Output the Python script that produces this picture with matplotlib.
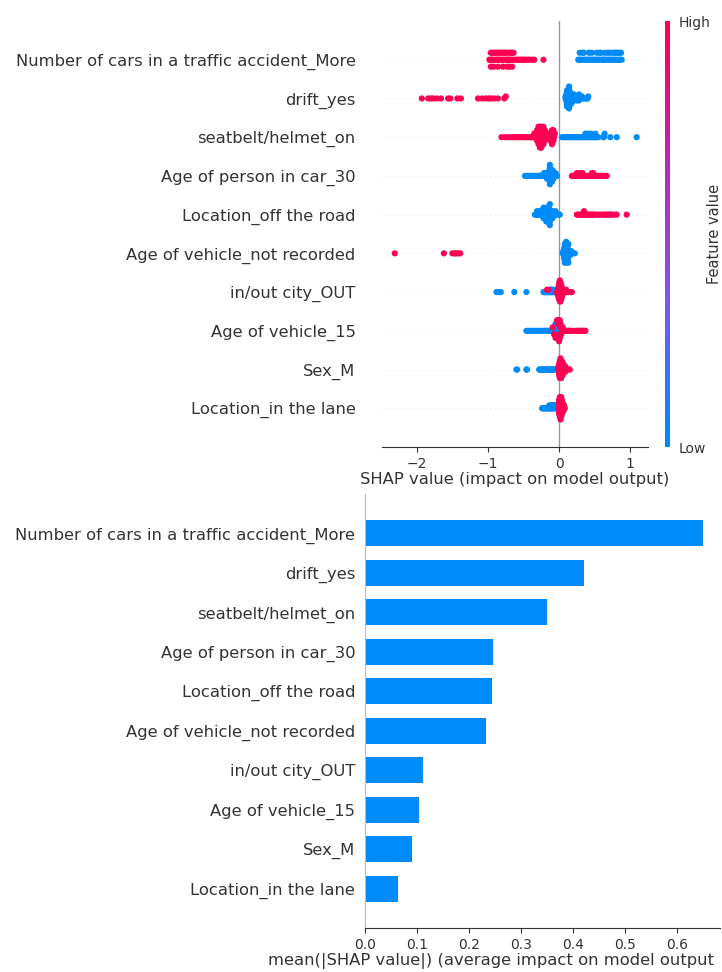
import numpy as np
import matplotlib
matplotlib.use("Agg")
import matplotlib.pyplot as plt
from matplotlib.colors import LinearSegmentedColormap

features = [
    "Number of cars in a traffic accident_More",
    "drift_yes",
    "seatbelt/helmet_on",
    "Age of person in car_30",
    "Location_off the road",
    "Age of vehicle_not recorded",
    "in/out city_OUT",
    "Age of vehicle_15",
    "Sex_M",
    "Location_in the lane",
]

cars_high = [-0.98, -0.97, -0.96, -0.96, -0.95, -0.94, -0.93, -0.92, -0.92, -0.91, -0.90, -0.89,
             -0.88, -0.87, -0.86, -0.86, -0.85, -0.84, -0.83, -0.82, -0.81, -0.80, -0.80, -0.79,
             -0.78, -0.77, -0.76, -0.75, -0.74, -0.74, -0.73, -0.72, -0.71, -0.70, -0.70, -0.69,
             -0.68, -0.67, -0.66, -0.66, -0.65, -0.64, -0.62, -0.60, -0.58, -0.56, -0.54, -0.52,
             -0.50, -0.48, -0.46, -0.43, -0.40, -0.37, -0.35, -0.22]
cars_low = [0.27, 0.28, 0.29, 0.31, 0.32, 0.33, 0.35, 0.35, 0.37, 0.39, 0.41, 0.42, 0.43, 0.45,
            0.46, 0.47, 0.49, 0.51, 0.52, 0.53, 0.55, 0.56, 0.57, 0.58, 0.59, 0.61, 0.62, 0.63,
            0.64, 0.65, 0.67, 0.68, 0.69, 0.70, 0.71, 0.73, 0.74, 0.75, 0.76, 0.77, 0.78, 0.79,
            0.80, 0.81, 0.82, 0.83, 0.84, 0.85, 0.86, 0.87, 0.88]

drift_high = [-1.93, -1.84, -1.80, -1.77, -1.72, -1.66, -1.56, -1.53, -1.43, -1.38, -1.14,
              -1.08, -1.03, -0.99, -0.96, -0.91, -0.86, -0.77, -0.75]
drift_low = [0.09, 0.09, 0.10, 0.10, 0.10, 0.10, 0.11, 0.11, 0.11, 0.11, 0.11, 0.12, 0.12, 0.12,
             0.12, 0.13, 0.13, 0.13, 0.13, 0.13, 0.14, 0.14, 0.14, 0.15, 0.15, 0.15, 0.15, 0.16,
             0.16, 0.16, 0.17, 0.17, 0.17, 0.18, 0.18, 0.19, 0.19, 0.20, 0.21, 0.22, 0.23, 0.24,
             0.25, 0.25, 0.26, 0.27, 0.28, 0.28, 0.29, 0.30, 0.31, 0.32, 0.34, 0.36, 0.38, 0.40,
             0.41]

seatbelt_high = [-0.81, -0.76, -0.72, -0.68, -0.65, -0.62, -0.59, -0.56, -0.53, -0.50, -0.47,
                 -0.45, -0.43, -0.41, -0.39, -0.37, -0.36, -0.35, -0.34, -0.33, -0.32, -0.32,
                 -0.31, -0.31, -0.30, -0.30, -0.30, -0.29, -0.29, -0.29, -0.28, -0.28, -0.28,
                 -0.28, -0.27, -0.27, -0.27, -0.26, -0.26, -0.26, -0.26, -0.25, -0.25, -0.25,
                 -0.24, -0.24, -0.24, -0.24, -0.23, -0.23, -0.23, -0.22, -0.22, -0.22, -0.21,
                 -0.21, -0.20, -0.20, -0.19, -0.18, -0.17, -0.16, -0.15, -0.14, -0.13, -0.12,
                 -0.12, -0.11, -0.11, -0.10, -0.10, -0.10, -0.09, -0.09, -0.08, -0.08, -0.07,
                 -0.06]
seatbelt_low = [0.04, 0.06, 0.08, 0.10, 0.12, 0.14, 0.16, 0.18, 0.20, 0.22, 0.24, 0.26, 0.28,
                0.30, 0.32, 0.34, 0.36, 0.37, 0.38, 0.40, 0.41, 0.43, 0.44, 0.45, 0.47, 0.49,
                0.50, 0.51, 0.53, 0.55, 0.62, 0.63, 0.64, 0.72, 0.81, 1.09]

age30_low = [-0.48, -0.46, -0.44, -0.42, -0.40, -0.38, -0.36, -0.34, -0.32, -0.30, -0.28,
             -0.27, -0.26, -0.25, -0.24, -0.23, -0.22, -0.21, -0.20, -0.20, -0.19, -0.19,
             -0.18, -0.18, -0.17, -0.17, -0.17, -0.16, -0.16, -0.16, -0.15, -0.15, -0.15,
             -0.14, -0.14, -0.14, -0.14, -0.13, -0.13, -0.13, -0.13, -0.12, -0.12, -0.12,
             -0.12, -0.12, -0.11, -0.11, -0.11, -0.11, -0.11, -0.10, -0.10, -0.10, -0.10,
             -0.10, -0.09, -0.09, -0.09, -0.09, -0.08, -0.08, -0.08, -0.07, -0.07, -0.06,
             -0.05, -0.04, -0.03]
age30_high = [0.18, 0.19, 0.20, 0.21, 0.22, 0.23, 0.24, 0.25, 0.26, 0.27, 0.28, 0.29, 0.30,
              0.30, 0.31, 0.32, 0.33, 0.34, 0.35, 0.36, 0.38, 0.40, 0.42, 0.43, 0.44, 0.45,
              0.46, 0.46, 0.47, 0.48, 0.49, 0.50, 0.51, 0.52, 0.54, 0.56, 0.58, 0.59, 0.60,
              0.62, 0.64, 0.67]

offroad_low = [-0.34, -0.33, -0.32, -0.31, -0.30, -0.29, -0.28, -0.27, -0.26, -0.26, -0.25,
               -0.25, -0.24, -0.24, -0.23, -0.23, -0.22, -0.22, -0.21, -0.21, -0.20, -0.20,
               -0.19, -0.19, -0.18, -0.18, -0.18, -0.17, -0.17, -0.17, -0.16, -0.16, -0.16,
               -0.16, -0.15, -0.15, -0.15, -0.15, -0.14, -0.14, -0.14, -0.14, -0.13, -0.13,
               -0.13, -0.12, -0.12, -0.12, -0.11, -0.11, -0.10, -0.10, -0.09, -0.08, -0.07,
               -0.06, -0.05, -0.03, -0.01, 0.01]
offroad_high = [0.25, 0.27, 0.29, 0.31, 0.33, 0.34, 0.35, 0.37, 0.39, 0.41, 0.42, 0.43, 0.45,
                0.47, 0.48, 0.50, 0.53, 0.56, 0.59, 0.62, 0.65, 0.66, 0.68, 0.70, 0.72, 0.73,
                0.74, 0.78, 0.81, 0.95]

notrec_high = [-2.31, -1.62, -1.50, -1.47, -1.45, -1.42, -1.39]
notrec_low = [0.05, 0.06, 0.06, 0.07, 0.07, 0.07, 0.08, 0.08, 0.08, 0.08, 0.09, 0.09, 0.09,
              0.09, 0.09, 0.10, 0.10, 0.10, 0.10, 0.10, 0.11, 0.11, 0.11, 0.11, 0.12, 0.12,
              0.12, 0.13, 0.13, 0.14, 0.14, 0.15, 0.16, 0.17, 0.19, 0.22]

city_low = [-0.88, -0.86, -0.84, -0.82, -0.63, -0.46, -0.22, -0.21, -0.20, -0.19, -0.18,
            -0.17, -0.16, -0.15, -0.14, -0.13, -0.12, -0.12, -0.11, -0.11, -0.10, -0.10,
            -0.09, -0.08, -0.07, -0.05]
city_high = [-0.17, -0.15, -0.03, -0.02, -0.02, -0.02, -0.01, -0.01, -0.01, -0.01, -0.01,
             0.00, 0.00, 0.00, 0.00, 0.00, 0.00, 0.00, 0.00, 0.01, 0.01, 0.01, 0.01, 0.01,
             0.01, 0.01, 0.01, 0.01, 0.01, 0.02, 0.02, 0.02, 0.02, 0.02, 0.02, 0.02, 0.02,
             0.02, 0.03, 0.03, 0.03, 0.03, 0.03, 0.03, 0.03, 0.04, 0.04, 0.04, 0.04, 0.04,
             0.05, 0.05, 0.05, 0.06, 0.06, 0.07, 0.08, 0.09, 0.10, 0.12, 0.14, 0.16, 0.18]

age15_low = [-0.46, -0.43, -0.40, -0.37, -0.34, -0.31, -0.28, -0.25, -0.22, -0.20, -0.18,
             -0.16, -0.14, -0.12, -0.11, -0.10, -0.09, -0.08, -0.08, -0.07, -0.07, -0.06,
             -0.06, -0.06, -0.05, -0.05, -0.05, -0.05, -0.04, -0.04, -0.04, -0.04, -0.04,
             -0.03, -0.03, -0.03, -0.03, -0.03, -0.02, -0.02, -0.02, -0.02, -0.01, -0.01,
             -0.01, 0.00, 0.00, 0.00, 0.01, 0.01, 0.02, 0.03, 0.05, 0.07, 0.09, 0.12, 0.15]
age15_high = [-0.09, -0.07, -0.05, -0.03, -0.02, -0.02, -0.01, -0.01, -0.01, 0.00, 0.00,
              0.00, 0.00, 0.01, 0.01, 0.01, 0.01, 0.02, 0.02, 0.02, 0.03, 0.03, 0.04, 0.05,
              0.06, 0.08, 0.10, 0.13, 0.16, 0.20, 0.24, 0.26, 0.28, 0.30, 0.31, 0.33, 0.35,
              0.37]

sexm_low = [-0.60, -0.59, -0.46, -0.45, -0.28, -0.27, -0.26, -0.25, -0.24, -0.23, -0.22,
            -0.21, -0.20, -0.19, -0.18, -0.17, -0.16, -0.15, -0.14, -0.13, -0.12, -0.11,
            -0.10, -0.09, -0.08, -0.07, -0.06]
sexm_high = [-0.01, -0.01, 0.00, 0.00, 0.00, 0.00, 0.00, 0.01, 0.01, 0.01, 0.01, 0.01, 0.01,
             0.01, 0.02, 0.02, 0.02, 0.02, 0.02, 0.02, 0.02, 0.02, 0.03, 0.03, 0.03, 0.03,
             0.03, 0.03, 0.03, 0.04, 0.04, 0.04, 0.04, 0.04, 0.04, 0.05, 0.05, 0.05, 0.05,
             0.05, 0.06, 0.06, 0.06, 0.06, 0.07, 0.07, 0.07, 0.08, 0.08, 0.08, 0.09, 0.09,
             0.10, 0.11, 0.12, 0.13, 0.15]

lane_low = [-0.24, -0.23, -0.22, -0.21, -0.20, -0.19, -0.18, -0.17, -0.16, -0.15, -0.14,
            -0.14, -0.13, -0.13, -0.12, -0.12, -0.11, -0.11, -0.10, -0.10, -0.09, -0.09,
            -0.08, -0.08, -0.07, -0.07, -0.06, -0.06, -0.05, -0.05, -0.04, -0.04, -0.03,
            -0.03, -0.02, -0.02, -0.01, -0.01]
lane_high = [0.00, 0.00, 0.00, 0.00, 0.00, 0.00, 0.01, 0.01, 0.01, 0.01, 0.01, 0.01, 0.01,
             0.01, 0.02, 0.02, 0.02, 0.02, 0.02, 0.02, 0.02, 0.02, 0.02, 0.03, 0.03, 0.03,
             0.03, 0.03, 0.03, 0.03, 0.03, 0.04, 0.04, 0.04, 0.04, 0.04, 0.04, 0.05, 0.05,
             0.05, 0.05, 0.06, 0.06, 0.06, 0.07, 0.07, 0.08]

# mean(|SHAP value|)
mean_abs_shap = [0.650, 0.421, 0.350, 0.246, 0.244, 0.233, 0.112, 0.104, 0.090, 0.063]

shap_low = [cars_low, drift_low, seatbelt_low, age30_low, offroad_low,
            notrec_low, city_low, age15_low, sexm_low, lane_low]
shap_high = [cars_high, drift_high, seatbelt_high, age30_high, offroad_high,
             notrec_high, city_high, age15_high, sexm_high, lane_high]

BLUE = "#008bfb"
RED = "#ff0052"
AXIS = "#333333"
cmap = LinearSegmentedColormap.from_list(
    "red_blue", [BLUE, "#7a5be6", "#b52bb4", RED])


def swarm_offsets(vals, row_height=0.4, nbins=100):
    """vertical jitter the way shap stacks points that fall in the same bin"""
    vals = np.asarray(vals, dtype=float)
    quant = np.round(nbins * (vals - vals.min()) / (vals.max() - vals.min() + 1e-8))
    ys = np.zeros(len(vals))
    layer = 0
    last_bin = -1
    for i in np.argsort(quant, kind="stable"):
        if quant[i] != last_bin:
            layer = 0
        ys[i] = np.ceil(layer / 2) * ((layer % 2) * 2 - 1)
        layer += 1
        last_bin = quant[i]
    ys *= 0.9 * (row_height / np.max(ys + 1))
    return ys


W, H = 722, 972
fig = plt.figure(figsize=(W / 100, H / 100), dpi=100)


def px_axes(x0, y0, x1, y1):
    return fig.add_axes([x0 / W, 1 - y1 / H, (x1 - x0) / W, (y1 - y0) / H])


n = len(features)
ypos = np.arange(n)[::-1]
LABEL_FS = 11.8

# ---- beeswarm ----
ax1 = px_axes(382, 21, 648, 447)
ax1.axvline(0, color="#999999", lw=1, zorder=-1)
for i in range(n):
    y = ypos[i]
    ax1.axhline(y, color="#cccccc", lw=0.5, dashes=(1, 5), zorder=-1)
    vals = np.array(shap_low[i] + shap_high[i])
    cols = [BLUE] * len(shap_low[i]) + [RED] * len(shap_high[i])
    ax1.scatter(vals, y + swarm_offsets(vals), c=cols, s=20, linewidths=0, zorder=3)

ax1.set_xlim(-2.49, 1.25)
ax1.set_ylim(-1, n)
ax1.set_yticks(ypos)
ax1.set_yticklabels(features, fontsize=LABEL_FS, color=AXIS)
ax1.tick_params(axis="y", length=0, pad=19)
ax1.set_xticks([-2, -1, 0, 1])
ax1.tick_params(axis="x", labelsize=10, color=AXIS, labelcolor=AXIS)
ax1.set_xlabel("SHAP value (impact on model output)", fontsize=LABEL_FS, color=AXIS,
               labelpad=1)
for side in ["top", "right", "left"]:
    ax1.spines[side].set_visible(False)
ax1.spines["bottom"].set_color(AXIS)

# colour bar
cax = px_axes(665, 21, 670, 447)
grad = np.linspace(0, 1, 256).reshape(-1, 1)
cax.imshow(grad, aspect="auto", cmap=cmap, origin="lower", extent=[0, 1, 0, 1])
cax.set_xticks([])
cax.yaxis.tick_right()
cax.set_yticks([0, 1])
cax.set_yticklabels(["Low", "High"], fontsize=10, color=AXIS)
cax.tick_params(axis="y", length=0, pad=6)
cax.yaxis.set_label_position("right")
cax.set_ylabel("Feature value", fontsize=10.5, color=AXIS, labelpad=-2)
for s in cax.spines.values():
    s.set_visible(False)

# ---- bar chart ----
ax2 = px_axes(365, 494, 720, 928)
ax2.barh(ypos, mean_abs_shap, height=0.66, color=BLUE, align="center")
ax2.set_xlim(0, 0.6825)
ax2.set_ylim(-1, n)
ax2.set_yticks(ypos)
ax2.set_yticklabels(features, fontsize=LABEL_FS, color=AXIS)
ax2.tick_params(axis="y", length=0, pad=7)
ax2.set_xticks([0.0, 0.1, 0.2, 0.3, 0.4, 0.5, 0.6])
ax2.tick_params(axis="x", labelsize=10, color=AXIS, labelcolor=AXIS)
ax2.spines["top"].set_visible(False)
ax2.spines["right"].set_visible(False)
ax2.spines["left"].set_color("#bbbbbb")
ax2.spines["left"].set_linewidth(0.8)
ax2.spines["bottom"].set_color(AXIS)
ax2.set_xlabel("mean(|SHAP value|) (average impact on model output", fontsize=LABEL_FS,
               color=AXIS, ha="left")
ax2.xaxis.set_label_coords((268 - 365) / 355, -0.058)

fig.savefig("out.png", dpi=100)
